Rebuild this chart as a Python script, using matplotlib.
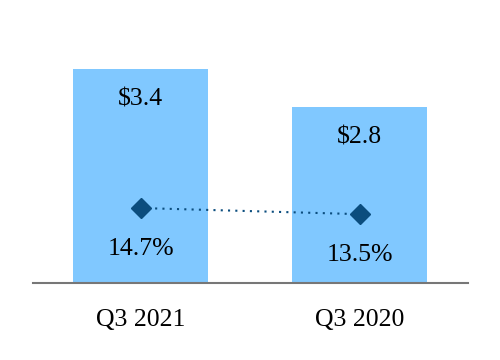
import matplotlib
matplotlib.use("Agg")
import matplotlib.pyplot as plt

quarters = ["Q3 2021", "Q3 2020"]
revenue = [3.4, 2.8]
revenue_labels = ["$3.4", "$2.8"]
margin = [14.7, 13.5]
margin_labels = ["14.7%", "13.5%"]

plt.rcParams['font.family'] = ['Liberation Serif', 'DejaVu Serif']

fig = plt.figure(figsize=(5, 3.6), dpi=100)
ax = fig.add_axes([0.066, 0.2139, 0.87, 0.7861])
x = list(range(len(quarters)))

ax.bar(x, revenue, width=0.616, color='#80C8FF', zorder=1)
ax.set_xlim(-0.491, 1.495)
ax.set_ylim(0, 4.5)

for xi, v, lab in zip(x, revenue, revenue_labels):
    ax.text(xi, v - 0.48, lab, ha='center', va='center', fontsize=18.5, color='black')

ax2 = ax.twinx()
ax2.set_ylim(0, 55.5)
ax2.plot(x, margin, linestyle=(0, (1, 2.5)), color='#0B4D7E', lw=1.5, marker='D',
         markersize=10, markerfacecolor='#0B4D7E', markeredgecolor='#0B4D7E')
for xi, v, lab in zip(x, margin, margin_labels):
    ax2.text(xi, v - 8.1, lab, ha='center', va='center', fontsize=18.5, color='black')

for a in (ax, ax2):
    for s in ['top', 'right', 'left']:
        a.spines[s].set_visible(False)
    a.set_yticks([])
ax.spines['bottom'].set_color('#777777')
ax.spines['bottom'].set_linewidth(1.5)
ax2.spines['bottom'].set_visible(False)

ax.set_xticks(x)
ax.set_xticklabels(quarters, fontsize=18.5)
ax.tick_params(axis='x', length=0, pad=19)

fig.savefig("out.png", dpi=100)
